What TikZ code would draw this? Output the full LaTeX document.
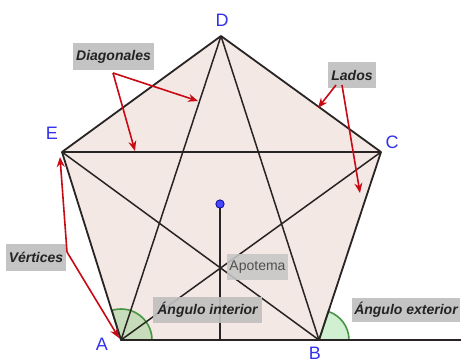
\documentclass[tikz,border=0pt]{standalone}
\usepackage{fontspec}
\setmainfont{Liberation Sans}
\usetikzlibrary{arrows.meta}
\definecolor{pentfill}{RGB}{243,232,227}
\definecolor{edgecol}{RGB}{40,36,36}
\definecolor{redarrow}{RGB}{200,10,20}
\definecolor{vblue}{RGB}{50,50,235}
\definecolor{anggreen}{RGB}{70,150,70}
\definecolor{angfill}{RGB}{0,170,0}
\definecolor{boxgray}{RGB}{192,192,192}
\definecolor{boxtext}{RGB}{35,35,35}
\definecolor{apogray}{RGB}{198,198,198}
\definecolor{apotext}{RGB}{80,80,80}
\definecolor{dotblue}{RGB}{70,70,255}
\tikzset{
  edge/.style={draw=edgecol, line width=1.8pt, line join=round},
  diag/.style={draw=edgecol, line width=1.5pt},
  redarr/.style={draw=redarrow, line width=1.6pt, -{Stealth[length=10pt,width=8pt]}},
  vlabel/.style={text=vblue, font=\fontsize{18}{19}\selectfont, inner sep=0pt},
  tag/.style={fill=boxgray, fill opacity=0.92, text opacity=1, text=boxtext, inner sep=0pt,
    font=\fontsize{14}{15}\selectfont\bfseries\itshape},
  apotag/.style={fill=apogray, fill opacity=0.88, text opacity=1, text=apotext, inner sep=0pt,
    font=\fontsize{14}{15}\selectfont},
  angsector/.style={fill=angfill, fill opacity=0.18, draw=anggreen, line width=1.6pt},
}
\begin{document}
\begin{tikzpicture}[x=1pt,y=-1pt]
\useasboundingbox[fill=white] (0,0) rectangle (461,362);
% vertices
\coordinate (A) at (121,340);
\coordinate (B) at (319,340);
\coordinate (C) at (381,152);
\coordinate (D) at (221,36);
\coordinate (E) at (62,152);
\coordinate (O) at (220,204);
\coordinate (M) at (220,340);
\coordinate (R) at (461,340);
% fill
\fill[pentfill] (A) -- (B) -- (C) -- (D) -- (E) -- cycle;
% angles
\path[angsector] (A) -- ++(31,0) arc[start angle=0, end angle=-107, radius=31] -- cycle;
\path[angsector] (B) -- ++(30,0) arc[start angle=0, end angle=-72, radius=30] -- cycle;
% diagonals
\draw[diag] (A) -- (C);
\draw[diag] (A) -- (D);
\draw[diag] (B) -- (D);
\draw[diag] (B) -- (E);
\draw[diag] (C) -- (E);
% apothem
\draw[diag] (O) -- (M);
% edges
\draw[edge] (A) -- (B) -- (C) -- (D) -- (E) -- cycle;
\draw[edge] (B) -- (R);
% center dot
\fill[dotblue, draw=blue!50!black, line width=0.7pt] (O) circle (4.2pt);
% labels boxes
\node[tag, minimum width=81pt, minimum height=27pt] (diagl) at (113.5,56.5) {Diagonales};
\node[tag, minimum width=48pt, minimum height=26pt] (lados) at (352,75) {Lados};
\node[tag, minimum width=60pt, minimum height=27pt] (vert) at (36,257.5) {Vértices};
\node[apotag, minimum width=61pt, minimum height=26pt] (apot) at (257.5,267) {Apotema};
\node[tag, minimum width=109pt, minimum height=26pt] (angint) at (207.5,310) {Ángulo interior};
\node[tag, minimum width=108pt, minimum height=24pt] (angext) at (406,310) {Ángulo exterior};
% arrow anchor points
\coordinate (d0) at (113,73);
\coordinate (d1) at (198,101);
\coordinate (d2) at (135,151);
\coordinate (l0) at (336,85);
\coordinate (l1) at (318,108);
\coordinate (l2) at (342,85);
\coordinate (l3) at (360,193);
\coordinate (v0) at (67,252);
\coordinate (v1) at (60,157);
\coordinate (v2) at (119,338);
% arrows
\draw[redarr] (d0) -- (d1);
\draw[redarr] (d0) -- (d2);
\draw[redarr] (l0) -- (l1);
\draw[redarr] (l2) -- (l3);
\draw[redarr] (v0) -- (v1);
\draw[redarr] (v0) -- (v2);
% vertex letters
\node[vlabel] (lA) at (102,344) {A};
\node[vlabel] (lB) at (315,353) {B};
\node[vlabel] (lC) at (392,142) {C};
\node[vlabel] (lD) at (222,20) {D};
\node[vlabel] (lE) at (52,133) {E};
\end{tikzpicture}
\end{document}
